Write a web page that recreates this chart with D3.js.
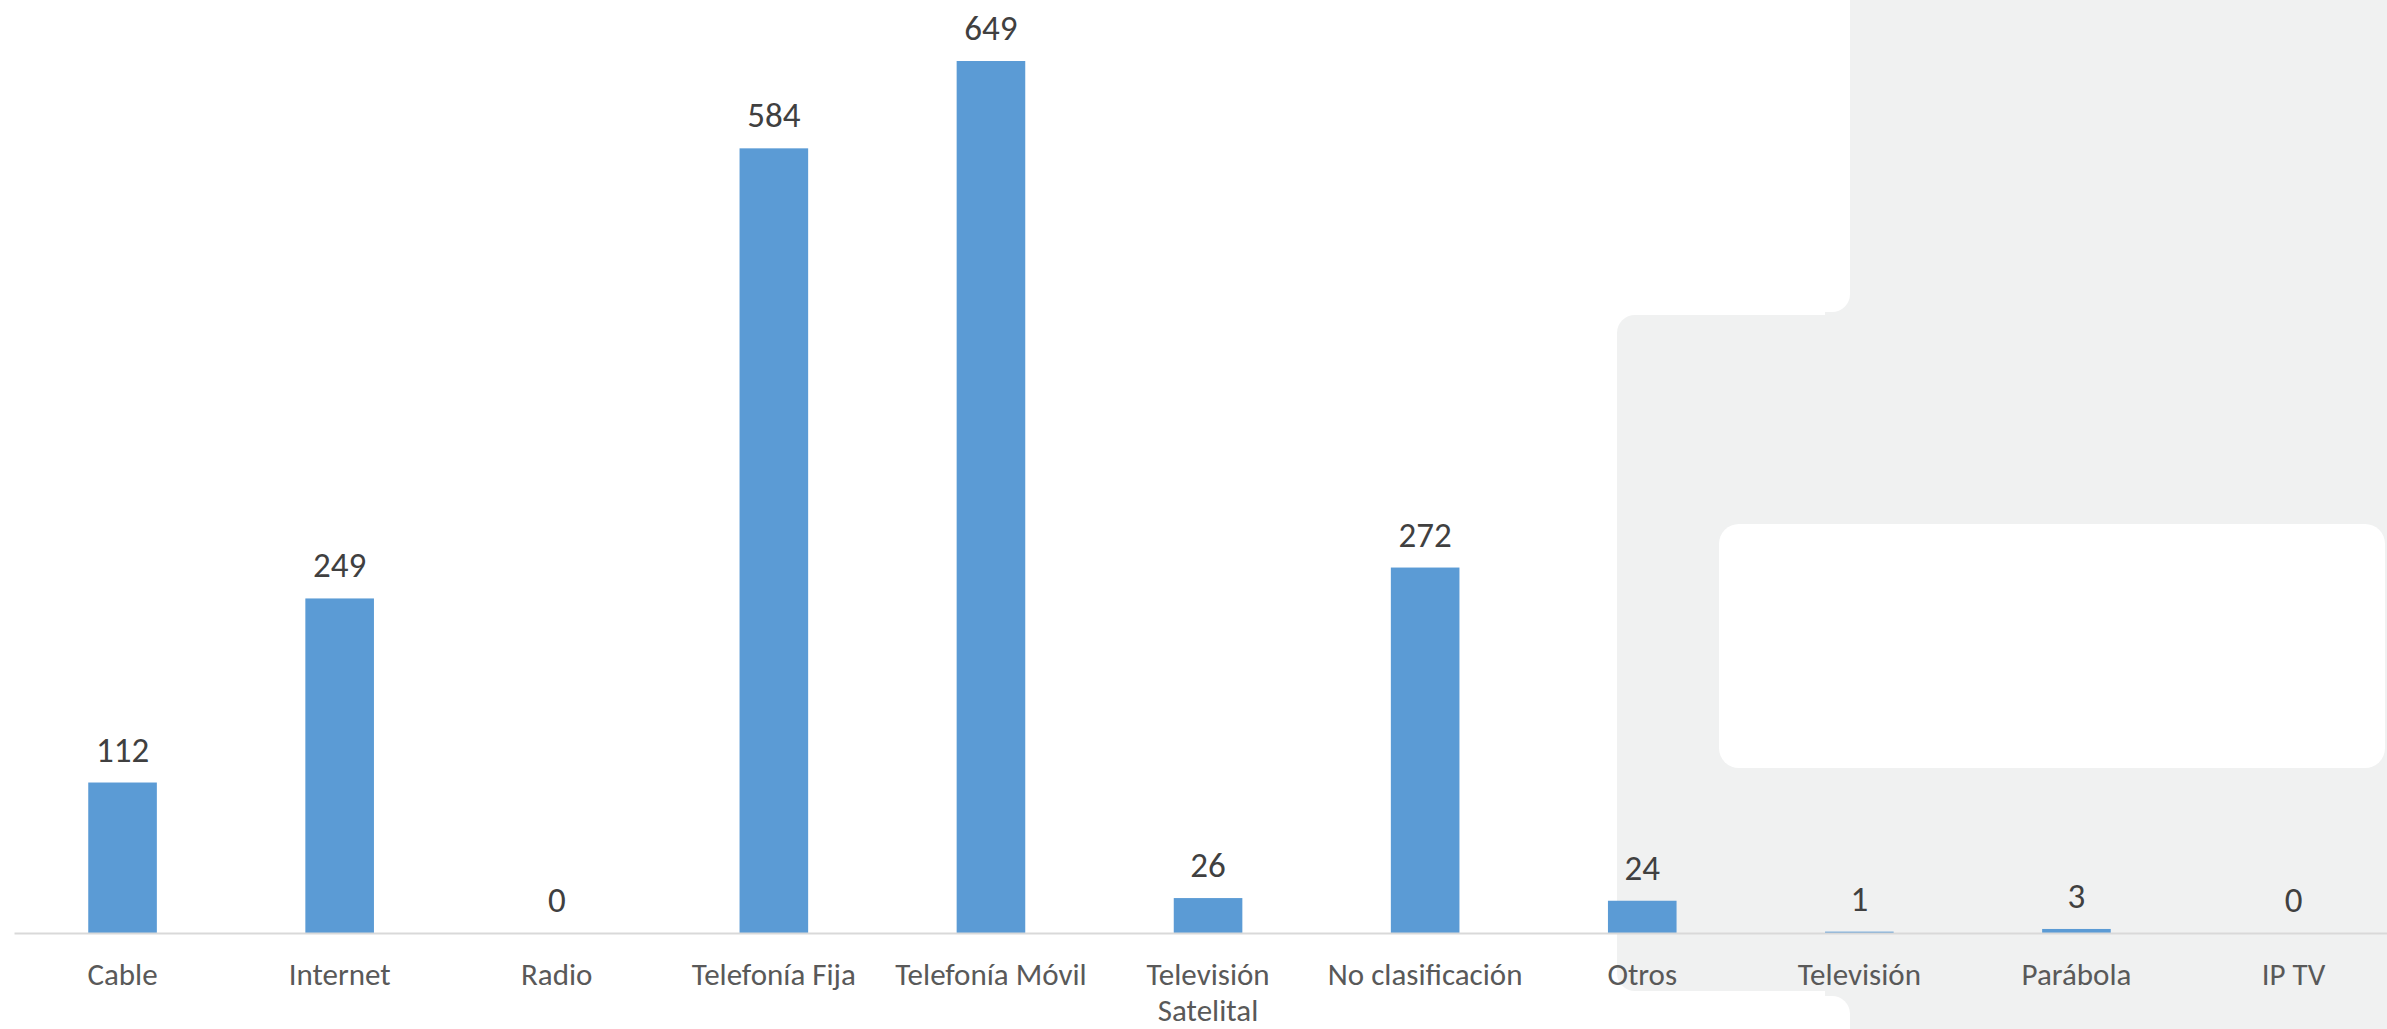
<!DOCTYPE html>
<html>
    <head>
        <meta charset="utf-8">
        <title>Reclamos por servicio</title>
        <script src="https://d3js.org/d3.v7.min.js" charset="utf-8"></script>
        <style>
            body { margin: 0; background: #ffffff; overflow: hidden; }
        </style>
    </head>
    <body>
        <script>
            var categories = ["Cable", "Internet", "Radio", "Telefonía Fija", "Telefonía Móvil",
                              "Televisión Satelital", "No clasificación", "Otros", "Televisión",
                              "Parábola", "IP TV"];
            var values = [112, 249, 0, 584, 649, 26, 272, 24, 1, 3, 0];
            // category labels as printed (line breaks included)
            var tickLabels = [["Cable"], ["Internet"], ["Radio"], ["Telefonía Fija"], ["Telefonía Móvil"],
                              ["Televisión", "Satelital"], ["No clasificación"], ["Otros"], ["Televisión"],
                              ["Parábola"], ["IP TV"]];

            var width_SVG = 2387;
            var height_SVG = 1029;
            var axisY = 933;
            var grey = "#f0f1f1";

            var svg = d3.select("body")
                        .append("svg")
                        .attr("width", width_SVG)
                        .attr("height", height_SVG)
                        .style("display", "block");

            // background decoration on the right
            var bg = svg.append("g");
            bg.append("rect").attr("x", 1850).attr("y", -20).attr("width", 600).attr("height", 1100).style("fill", grey);
            bg.append("rect").attr("x", 1617).attr("y", 315).attr("width", 900).attr("height", 676)
                .attr("rx", 18).style("fill", grey);
            bg.append("rect").attr("x", 1825).attr("y", 285).attr("width", 30).attr("height", 35).style("fill", grey);
            bg.append("rect").attr("x", 1600).attr("y", -50).attr("width", 250).attr("height", 362)
                .attr("rx", 18).style("fill", "#ffffff");
            bg.append("rect").attr("x", 1825).attr("y", 980).attr("width", 30).attr("height", 40).style("fill", grey);
            bg.append("rect").attr("x", 1600).attr("y", 996).attr("width", 250).attr("height", 100)
                .attr("rx", 18).style("fill", "#ffffff");
            bg.append("rect").attr("x", 1719).attr("y", 524).attr("width", 666).attr("height", 244)
                .attr("rx", 20).style("fill", "#ffffff");

            var x = d3.scaleBand()
                      .domain(categories)
                      .range([14, 14 + 217.1 * categories.length])
                      .paddingInner(0.684)
                      .paddingOuter(0.342);

            var y = d3.scaleLinear()
                      .domain([0, 700])
                      .range([axisY, axisY - 700 * 1.3436]);

            svg.selectAll(".bar")
                .data(values)
                .enter()
                .append("rect")
                .attr("class", "bar")
                .attr("x", function(d, i) { return x(categories[i]); })
                .attr("y", function(d) { return y(d); })
                .attr("width", x.bandwidth())
                .attr("height", function(d) { return y(0) - y(d); })
                .style("fill", "#5b9bd5");

            svg.selectAll(".val")
                .data(values)
                .enter()
                .append("text")
                .attr("class", "val")
                .attr("x", function(d, i) { return x(categories[i]) + x.bandwidth() / 2; })
                .attr("y", function(d) { return y(d) - 21; })
                .attr("text-anchor", "middle")
                .style("font-family", "Calibri, Carlito, Lato, sans-serif")
                .style("font-size", "35px")
                .style("fill", "#404040")
                .text(function(d) { return d; });

            var xAxis = d3.axisBottom(x).tickSize(0).tickSizeOuter(0);
            var gx = svg.append("g")
                        .attr("transform", "translate(0," + axisY + ")")
                        .call(xAxis);
            gx.select(".domain").style("stroke", "#d9d9d9").style("stroke-width", 2);
            gx.selectAll(".tick text").each(function(d, i) {
                var t = d3.select(this);
                t.text(null)
                 .attr("y", 52)
                 .attr("dy", null)
                 .style("font-family", "Calibri, Carlito, Lato, sans-serif")
                 .style("font-size", "31px")
                 .style("fill", "#595959");
                tickLabels[i].forEach(function(line, k) {
                    t.append("tspan").attr("x", 0).attr("y", 52 + k * 36).text(line);
                });
            });
        </script>
    </body>
</html>
